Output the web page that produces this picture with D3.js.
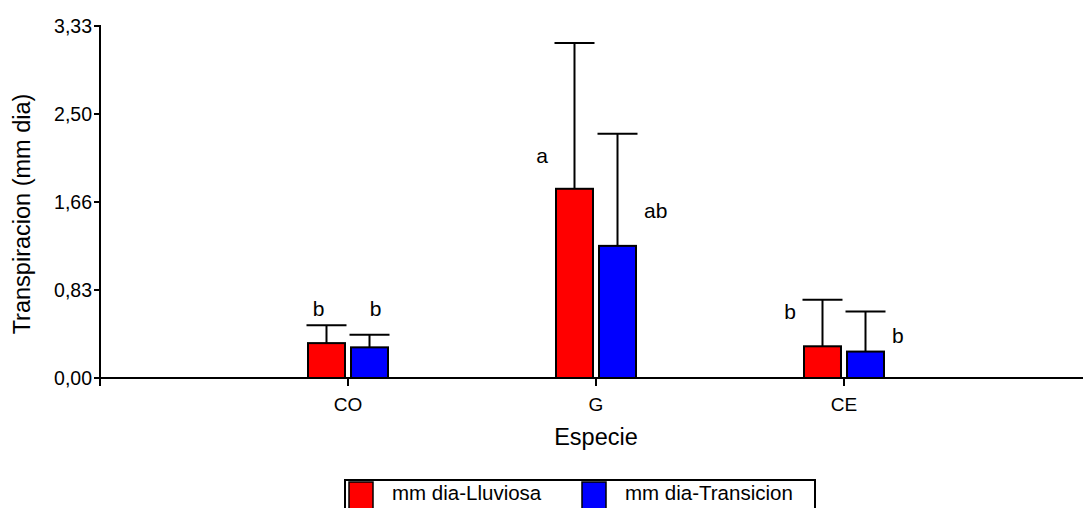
<!DOCTYPE html>
<html>
<head>
<meta charset="utf-8">
<script src="https://cdn.jsdelivr.net/npm/d3@7"></script>
<style>
html,body{margin:0;padding:0;background:#fff;}
svg{display:block;font-family:"Liberation Sans",Arial,sans-serif;}
</style>
</head>
<body>
<div id="chart"></div>
<script>
// ---- data ----
const categories = ["CO", "G", "CE"];
const seriesNames = ["mm dia-Lluviosa", "mm dia-Transicion"];
const lluviosa = [0.33, 1.79, 0.30];
const lluviosaErr = [0.17, 1.38, 0.44];
const transicion = [0.29, 1.25, 0.25];
const transicionErr = [0.12, 1.06, 0.38];
const yTickValues = [0, 0.8325, 1.665, 2.4975, 3.33];
const yTickLabels = ["0,00", "0,83", "1,66", "2,50", "3,33"];
// significance letters per category and series, with baseline value
const letterText = [["b", "b"], ["a", "ab"], ["b", "b"]];
const letterY = [[0.59, 0.59], [2.03, 1.51], [0.56, 0.33]];
const letterSide = [["up", "up"], ["left", "right"], ["left", "right"]];

const W = 1083, H = 508;
const colors = ["#ff0000", "#0000ff"];
const svg = d3.select("#chart").append("svg").attr("width", W).attr("height", H);
svg.append("rect").attr("width", W).attr("height", H).attr("fill", "#fff");

const x = d3.scaleLinear().domain([0, 4]).range([100, 1092]);
const y = d3.scaleLinear().domain([0, 3.33]).range([378, 26]);
const x1 = d3.scaleBand().domain([0, 1]).range([-40, 40]).paddingInner(0.14);

const values = [lluviosa, transicion];
const errs = [lluviosaErr, transicionErr];

const data = [];
categories.forEach((c, i) => {
  [0, 1].forEach(s => data.push({c, i, s, v: values[s][i], e: errs[s][i]}));
});

// error bars
const eb = svg.append("g").attr("stroke", "#000").attr("stroke-width", 2).attr("fill", "none");
data.forEach(d => {
  const cx = x(d.i + 1) + x1(d.s) + x1.bandwidth() / 2;
  eb.append("line").attr("x1", cx).attr("x2", cx).attr("y1", y(d.v)).attr("y2", y(d.v + d.e));
  eb.append("line").attr("x1", cx - 20).attr("x2", cx + 20).attr("y1", y(d.v + d.e)).attr("y2", y(d.v + d.e));
});

// bars
svg.append("g").selectAll("rect").data(data).join("rect")
  .attr("x", d => x(d.i + 1) + x1(d.s))
  .attr("width", x1.bandwidth())
  .attr("y", d => y(d.v))
  .attr("height", d => y(0) - y(d.v))
  .attr("fill", d => colors[d.s])
  .attr("stroke", "#000").attr("stroke-width", 2);

// letters
data.forEach(d => {
  const side = letterSide[d.i][d.s];
  const bx = x(d.i + 1) + x1(d.s);
  let tx, anchor;
  if (side === "up") { tx = bx + x1.bandwidth() / 2 + (d.s === 0 ? -8 : 6); anchor = "middle"; }
  else if (side === "left") { tx = bx - 8; anchor = "end"; }
  else { tx = bx + x1.bandwidth() + 8; anchor = "start"; }
  svg.append("text").attr("x", tx).attr("y", y(letterY[d.i][d.s]))
    .attr("text-anchor", anchor).attr("font-size", 21).attr("fill", "#000")
    .text(letterText[d.i][d.s]);
});

// x axis
const axG = svg.append("g").attr("stroke", "#000").attr("stroke-width", 2);
axG.append("line").attr("x1", x(0)).attr("x2", W).attr("y1", y(0)).attr("y2", y(0));
categories.forEach((c, i) => {
  axG.append("line").attr("x1", x(i + 1)).attr("x2", x(i + 1)).attr("y1", y(0)).attr("y2", y(0) + 8);
  svg.append("text").attr("x", x(i + 1)).attr("y", y(0) + 33).attr("text-anchor", "middle")
    .attr("font-size", 19).text(c);
});
// y axis
axG.append("line").attr("x1", x(0)).attr("x2", x(0)).attr("y1", y(3.33) - 1).attr("y2", y(0) + 8);
yTickValues.forEach((v, k) => {
  axG.append("line").attr("x1", x(0) - 6).attr("x2", x(0)).attr("y1", y(v)).attr("y2", y(v));
  svg.append("text").attr("x", x(0) - 8).attr("y", y(v) + 7).attr("text-anchor", "end")
    .attr("font-size", 19.5).text(yTickLabels[k]);
});

// axis titles
svg.append("text").attr("x", x(2)).attr("y", 445).attr("text-anchor", "middle")
  .attr("font-size", 23.5).text("Especie");
svg.append("text").attr("transform", `translate(30,214) rotate(-90)`)
  .attr("text-anchor", "middle").attr("font-size", 23.5).text("Transpiracion (mm dia)");

// legend
const lg = svg.append("g");
lg.append("rect").attr("x", 345).attr("y", 480).attr("width", 470).attr("height", 40)
  .attr("fill", "none").attr("stroke", "#000").attr("stroke-width", 2);
const legX = [349, 582];
seriesNames.forEach((n, s) => {
  lg.append("rect").attr("x", legX[s]).attr("y", 482).attr("width", 24).attr("height", 30)
    .attr("fill", colors[s]).attr("stroke", "#000").attr("stroke-width", 1.5);
  lg.append("text").attr("x", legX[s] + 43).attr("y", 500).attr("font-size", 20.5).text(n);
});
</script>
</body>
</html>
